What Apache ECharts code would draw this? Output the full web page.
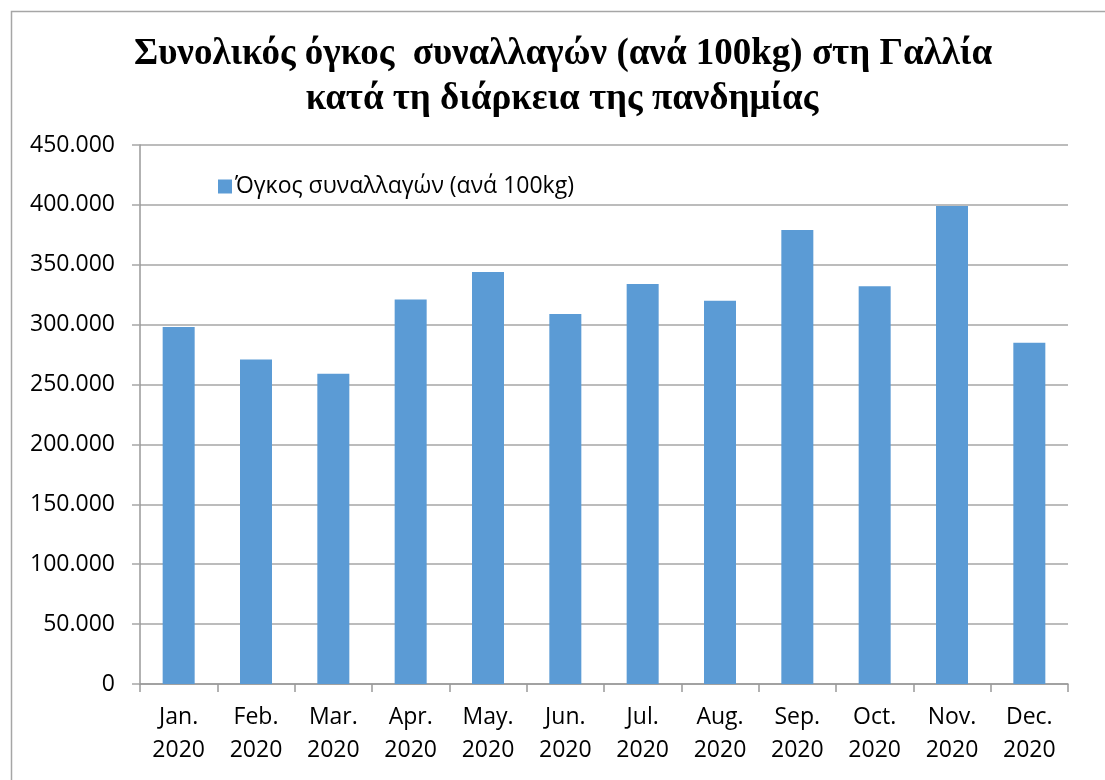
<!DOCTYPE html>
<html>
<head>
    <meta charset="utf-8">
    <title>Όγκος συναλλαγών</title>
    <script src="https://cdn.jsdelivr.net/npm/echarts@6/dist/echarts.min.js"></script>
    <style>
        html, body { margin: 0; padding: 0; background: #fff; }
        #mychat { width: 1105px; height: 780px; }
    </style>
</head>
<body>
<div id="mychat"></div>
<script>
    // μήνες (ετικέτες άξονα x)
    let months = ['Jan.\n2020', 'Feb.\n2020', 'Mar.\n2020', 'Apr.\n2020', 'May.\n2020', 'Jun.\n2020',
        'Jul.\n2020', 'Aug.\n2020', 'Sep.\n2020', 'Oct.\n2020', 'Nov.\n2020', 'Dec.\n2020'];
    // όγκος συναλλαγών (ανά 100kg)
    let volumes = [298000, 271000, 259000, 321000, 344000, 309000, 334000, 320000, 379000, 332000, 399000, 285000];
    let seriesName = 'Όγκος συναλλαγών (ανά 100kg)';
    let titleLine1 = 'Συνολικός όγκος  συναλλαγών (ανά 100kg) στη Γαλλία';
    let titleLine2 = 'κατά τη διάρκεια της πανδημίας';

    let labelFont = '"Open Sans", "Liberation Sans", sans-serif';
    let titleFont = 'bold 37px "Liberation Serif", serif';

    function fmt(v) {
        return String(v).replace(/\B(?=(\d{3})+(?!\d))/g, '.');
    }

    var myChart = echarts.init(document.getElementById('mychat'));
    let option = {
        animation: false,
        grid: { left: 140, right: 37, top: 145, bottom: 96 },
        graphic: [
            {
                type: 'rect', z: -10, silent: true,
                shape: { x: 11.5, y: 11.5, width: 1200, height: 1000 },
                style: { fill: 'none', stroke: '#a6a6a6', lineWidth: 1.5 }
            },
            {
                type: 'text', x: 563, y: 54,
                style: {
                    text: titleLine1, fill: '#000', textAlign: 'center', textVerticalAlign: 'middle',
                    font: titleFont
                }
            },
            {
                type: 'text', x: 562, y: 99,
                style: {
                    text: titleLine2, fill: '#000', textAlign: 'center', textVerticalAlign: 'middle',
                    font: titleFont
                }
            }
        ],
        legend: {
            left: 213, top: 170,
            icon: 'rect', itemWidth: 14, itemHeight: 14, itemGap: 10,
            textStyle: { fontFamily: labelFont, fontSize: 23, color: '#000', padding: [0, 0, 0, -2] },
            data: [seriesName]
        },
        xAxis: {
            type: 'category',
            data: months,
            axisLine: { lineStyle: { color: '#999', width: 1.5 } },
            axisTick: { show: true, length: 8, lineStyle: { color: '#999', width: 1.5 } },
            axisLabel: {
                interval: 0, margin: 17, color: '#000',
                fontFamily: labelFont, fontSize: 23, lineHeight: 33
            }
        },
        yAxis: {
            type: 'value',
            min: 0, max: 450000, interval: 50000,
            axisLine: { show: true, lineStyle: { color: '#999', width: 1.5 } },
            axisTick: { show: true, length: 8, inside: false, lineStyle: { color: '#a6a6a6', width: 1.5 } },
            splitLine: { lineStyle: { color: '#a6a6a6', width: 1.5 } },
            axisLabel: {
                margin: 25, color: '#000',
                fontFamily: labelFont, fontSize: 23,
                formatter: fmt
            }
        },
        series: [
            {
                name: seriesName,
                type: 'bar',
                data: volumes,
                barWidth: 32,
                itemStyle: { color: '#5b9bd5' }
            }
        ]
    };
    myChart.setOption(option);
</script>
</body>
</html>
